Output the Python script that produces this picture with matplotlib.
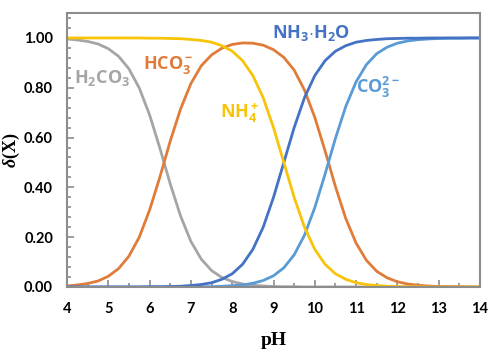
import matplotlib
matplotlib.use("Agg")
import matplotlib.pyplot as plt
from matplotlib.ticker import MultipleLocator, FormatStrFormatter

plt.rcParams["font.family"] = ["Lato", "DejaVu Sans"]
plt.rcParams["mathtext.fontset"] = "custom"
plt.rcParams["mathtext.rm"] = "Open Sans:bold"
plt.rcParams["mathtext.bf"] = "Open Sans:bold"
plt.rcParams["mathtext.it"] = "Liberation Serif:italic:bold"

# pH grid (step 0.25 from 4 to 14)
ph = [4 + 0.25 * i for i in range(41)]

h2co3 = [0.996, 0.992, 0.986, 0.976, 0.957, 0.926, 0.876, 0.799, 0.691, 0.557,
         0.414, 0.285, 0.183, 0.112, 0.066, 0.038, 0.022, 0.012, 0.007, 0.004,
         0.002, 0.001, 0.001, 0.000, 0.000, 0.000, 0.000, 0.000, 0.000, 0.000,
         0.000, 0.000, 0.000, 0.000, 0.000, 0.000, 0.000, 0.000, 0.000, 0.000, 0.000]
hco3 = [0.004, 0.008, 0.014, 0.024, 0.043, 0.074, 0.124, 0.200, 0.309, 0.442,
        0.586, 0.715, 0.817, 0.888, 0.932, 0.959, 0.974, 0.980, 0.979, 0.971,
        0.953, 0.922, 0.871, 0.791, 0.681, 0.546, 0.403, 0.275, 0.176, 0.107,
        0.063, 0.037, 0.021, 0.012, 0.007, 0.004, 0.002, 0.001, 0.001, 0.000, 0.000]
co3 = [0.000, 0.000, 0.000, 0.000, 0.000, 0.000, 0.000, 0.000, 0.000, 0.000,
       0.000, 0.000, 0.000, 0.001, 0.001, 0.003, 0.005, 0.008, 0.015, 0.026,
       0.045, 0.077, 0.129, 0.208, 0.319, 0.454, 0.597, 0.725, 0.824, 0.893,
       0.937, 0.963, 0.979, 0.988, 0.993, 0.996, 0.998, 0.999, 0.999, 1.000, 1.000]
nh4 = [1.000, 1.000, 1.000, 1.000, 1.000, 1.000, 1.000, 1.000, 0.999, 0.999,
       0.998, 0.997, 0.994, 0.990, 0.983, 0.969, 0.947, 0.909, 0.849, 0.760,
       0.640, 0.500, 0.360, 0.240, 0.151, 0.091, 0.053, 0.031, 0.017, 0.010,
       0.006, 0.003, 0.002, 0.001, 0.001, 0.000, 0.000, 0.000, 0.000, 0.000, 0.000]
nh3 = [0.000, 0.000, 0.000, 0.000, 0.000, 0.000, 0.000, 0.000, 0.001, 0.001,
       0.002, 0.003, 0.006, 0.010, 0.017, 0.031, 0.053, 0.091, 0.151, 0.240,
       0.360, 0.500, 0.640, 0.760, 0.849, 0.909, 0.947, 0.969, 0.983, 0.990,
       0.994, 0.997, 0.998, 0.999, 0.999, 1.000, 1.000, 1.000, 1.000, 1.000, 1.000]

c_gray = "#A5A5A5"
c_orange = "#E07C3A"
c_yellow = "#F7C40A"
c_dblue = "#4472C4"
c_lblue = "#5B9BD5"

fig = plt.figure(figsize=(5.0, 3.53), dpi=100)
ax = fig.add_axes([0.134, 0.187, 0.826, 0.776])

ax.plot(ph, h2co3, color=c_gray, lw=2, solid_joinstyle="round")
ax.plot(ph, hco3, color=c_orange, lw=2, solid_joinstyle="round")
ax.plot(ph, co3, color=c_lblue, lw=2, solid_joinstyle="round")
ax.plot(ph, nh3, color=c_dblue, lw=2, solid_joinstyle="round")
ax.plot(ph, nh4, color=c_yellow, lw=2, solid_joinstyle="round")

ax.set_xlim(4, 14)
ax.set_ylim(0, 1.10)
ax.xaxis.set_major_locator(MultipleLocator(1))
ax.xaxis.set_minor_locator(MultipleLocator(0.5))
ax.yaxis.set_major_locator(MultipleLocator(0.2))
ax.yaxis.set_minor_locator(MultipleLocator(0.04))
ax.yaxis.set_major_formatter(FormatStrFormatter("%.2f"))

for s in ax.spines.values():
    s.set_color("#8C8C8C")
    s.set_linewidth(1.5)
ax.tick_params(which="both", direction="in", color="#8C8C8C", width=1.2)
ax.tick_params(which="major", length=5, labelsize=10.5)
ax.tick_params(which="minor", length=3)
for lbl in ax.get_xticklabels() + ax.get_yticklabels():
    lbl.set_fontweight("bold")
ax.tick_params(axis="x", pad=11)
ax.tick_params(axis="y", pad=10)

ax.set_xlabel("pH", fontsize=14, fontweight="bold", family="Liberation Serif", labelpad=11)
ax.set_ylabel(r"$\delta$(X)", fontsize=13, fontweight="bold", family="Liberation Serif")
ax.yaxis.set_label_coords(-0.108, 0.5)

lab = dict(fontsize=13, va="center", ha="left")
ax.text(4.18, 0.84, r"$\mathbf{H_2CO_3}$", color=c_gray, **lab)
ax.text(5.84, 0.89, r"$\mathbf{HCO_3^-}$", color=c_orange, **lab)
ax.text(7.70, 0.70, r"$\mathbf{NH_4^+}$", color=c_yellow, **lab)
ax.text(8.96, 1.02, r"$\mathbf{NH_3{\cdot}H_2O}$", color=c_dblue, **lab)
ax.text(11.0, 0.80, r"$\mathbf{CO_3^{2-}}$", color=c_lblue, **lab)

fig.savefig("out.png", dpi=100)
